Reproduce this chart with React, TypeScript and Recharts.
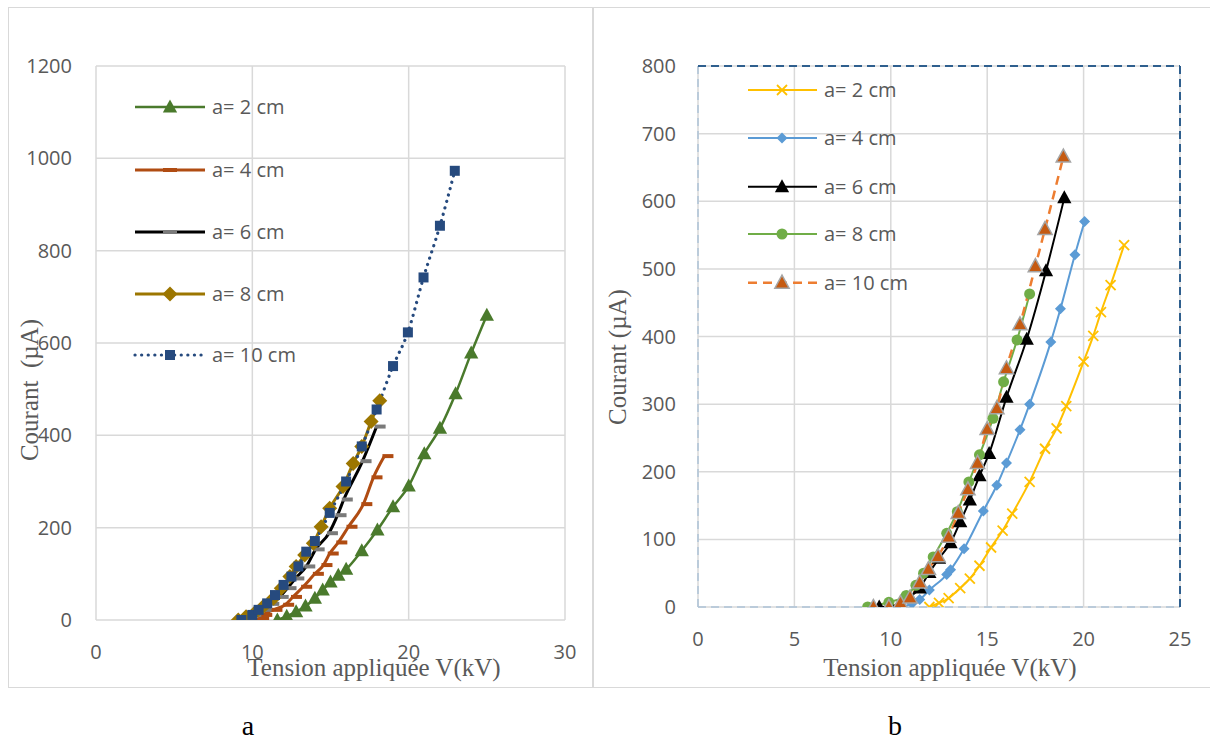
import React from 'react';
import { LineChart, Line, XAxis, YAxis, CartesianGrid, ReferenceLine, Legend } from 'recharts';

// ---------- Chart a ----------
const A_X_TICKS = [0, 10, 20, 30];
const A_Y_TICKS = [0, 200, 400, 600, 800, 1000, 1200];
const A_LABELS = ['a= 2 cm', 'a= 4 cm', 'a= 6 cm', 'a= 8 cm', 'a= 10 cm'];

const A_V2 = [11.6, 12.2, 12.8, 13.4, 14.0, 14.5, 15.0, 15.5, 16.0, 17.0, 18.0, 19.0, 20.0, 21.0, 22.0, 23.0, 24.0, 25.0];
const A_I2 = [0, 8, 18, 30, 47, 65, 82, 97, 110, 150, 195, 245, 290, 360, 415, 490, 578, 660];

const A_V4 = [10.2, 10.5, 10.7, 11.35, 12.1, 12.6, 13.25, 14.0, 14.55, 14.95, 15.5, 16.15, 17.1, 17.75, 18.45];
const A_I4 = [0, 4, 11, 22, 33, 50, 72, 100, 119, 144, 168, 202, 251, 309, 355];

const A_V6 = [9.6, 10.0, 10.65, 11.15, 11.75, 12.25, 12.75, 13.45, 14.05, 14.9, 15.45, 15.85, 17.05, 17.95];
const A_I6 = [0, 11, 22, 35, 50, 69, 90, 116, 153, 188, 227, 261, 344, 419];

const A_V8 = [9.1, 9.6, 10.15, 10.7, 11.35, 11.85, 12.4, 12.8, 13.35, 13.9, 14.4, 14.95, 15.8, 16.45, 17.0, 17.6, 18.15];
const A_I8 = [0, 7, 15, 29, 47, 69, 94, 116, 141, 166, 202, 242, 289, 339, 376, 430, 475];

const A_V10 = [9.3, 10.0, 10.4, 10.95, 11.45, 12.0, 12.5, 12.95, 13.45, 14.0, 14.95, 16.0, 17.0, 17.95, 19.0, 19.95, 20.95, 22.0, 22.95];
const A_I10 = [0, 11, 22, 36, 54, 76, 94, 116, 148, 171, 232, 300, 376, 456, 550, 623, 742, 854, 973];

// ---------- Chart b ----------
const B_X_TICKS = [0, 5, 10, 15, 20, 25];
const B_Y_TICKS = [0, 100, 200, 300, 400, 500, 600, 700, 800];
const B_LABELS = ['a= 2 cm', 'a= 4 cm', 'a= 6 cm', 'a= 8 cm', 'a= 10 cm'];

const B_V2 = [12.0, 12.5, 13.0, 13.6, 14.1, 14.6, 15.2, 15.8, 16.3, 17.2, 18.0, 18.6, 19.1, 20.0, 20.5, 20.9, 21.4, 22.1];
const B_I2 = [0, 6, 13, 28, 42, 61, 88, 113, 138, 185, 234, 264, 297, 363, 401, 436, 476, 535];

const B_V4 = [10.5, 11.1, 11.5, 12.0, 12.9, 13.1, 13.8, 14.8, 15.5, 16.0, 16.7, 17.2, 18.3, 18.8, 19.55, 20.05];
const B_I4 = [0, 5, 11, 25, 48, 55, 86, 142, 180, 213, 262, 300, 392, 441, 521, 570];

const B_V6 = [9.4, 10.0, 10.5, 11.0, 11.5, 12.0, 12.5, 13.1, 13.6, 14.1, 14.6, 15.1, 16.0, 17.05, 18.05, 19.0];
const B_I6 = [0, 1, 6, 15, 28, 51, 72, 95, 126, 158, 194, 227, 310, 396, 497, 605];

const B_V8 = [8.8, 9.9, 10.8, 11.3, 11.7, 12.2, 12.9, 13.45, 14.05, 14.6, 15.3, 15.85, 16.55, 17.2];
const B_I8 = [0, 7, 17, 32, 50, 74, 109, 141, 185, 225, 279, 333, 395, 463];

const B_V10 = [9.1, 9.9, 10.5, 11.0, 11.5, 11.95, 12.45, 13.0, 13.5, 14.0, 14.5, 15.0, 15.5, 16.0, 16.7, 17.5, 18.0, 18.95];
const B_I10 = [0, 0, 6, 14, 36, 56, 75, 104, 139, 174, 213, 263, 294, 353, 418, 504, 559, 666];

const zip = (vs: number[], is: number[]) => vs.map((v, k) => ({ v, i: is[k] }));

const TICK_FONT = "'Open Sans', 'Noto Sans', sans-serif";
const SERIF = "'Liberation Serif', 'DejaVu Serif', serif";
const GRAY_TXT = '#595959';

type Kind = 'tri' | 'dash' | 'diamond' | 'square' | 'x' | 'circle';

function Mark({ kind, cx, cy, size, fill, stroke, sw }: { kind: Kind; cx: number; cy: number; size: number; fill: string; stroke?: string; sw?: number }) {
  if (cx == null || cy == null || isNaN(cx) || isNaN(cy)) return null;
  const s = size;
  switch (kind) {
    case 'tri':
      return (
        <polygon
          points={`${cx},${cy - s * 0.58} ${cx - s * 0.55},${cy + s * 0.42} ${cx + s * 0.55},${cy + s * 0.42}`}
          fill={fill}
          stroke={stroke || 'none'}
          strokeWidth={sw || 0}
        />
      );
    case 'dash':
      return <rect x={cx - 2} y={cy - 2} width={s} height={4} fill={fill} />;
    case 'diamond':
      return <polygon points={`${cx},${cy - s / 2} ${cx + s / 2},${cy} ${cx},${cy + s / 2} ${cx - s / 2},${cy}`} fill={fill} />;
    case 'square':
      return <rect x={cx - s / 2} y={cy - s / 2} width={s} height={s} fill={fill} />;
    case 'x':
      return (
        <g stroke={fill} strokeWidth={sw || 1.6}>
          <line x1={cx - s / 2} y1={cy - s / 2} x2={cx + s / 2} y2={cy + s / 2} />
          <line x1={cx - s / 2} y1={cy + s / 2} x2={cx + s / 2} y2={cy - s / 2} />
        </g>
      );
    case 'circle':
      return <circle cx={cx} cy={cy} r={s / 2} fill={fill} />;
  }
  return null;
}

type SeriesCfg = {
  id: string;
  label: string;
  data: { v: number; i: number }[];
  color: string;
  width: number;
  dash?: string;
  cap?: 'round' | 'butt';
  kind?: Kind;
  size: number;
  mfill: string;
  mstroke?: string;
  msw?: number;
};

const A_SERIES: SeriesCfg[] = [
  { id: 'a2', label: A_LABELS[0], data: zip(A_V2, A_I2), color: '#4A7A2C', width: 2.5, kind: 'tri', size: 13, mfill: '#4A7A2C' },
  { id: 'a4', label: A_LABELS[1], data: zip(A_V4, A_I4), color: '#B04C12', width: 3, kind: 'dash', size: 11, mfill: '#B04C12' },
  { id: 'a6', label: A_LABELS[2], data: zip(A_V6, A_I6), color: '#000000', width: 3, kind: 'dash', size: 11, mfill: '#7A7A7A' },
  { id: 'a8', label: A_LABELS[3], data: zip(A_V8, A_I8), color: '#9C7600', width: 3, kind: 'diamond', size: 15, mfill: '#9C7600' },
  { id: 'a10', label: A_LABELS[4], data: zip(A_V10, A_I10), color: '#264A7E', width: 3.2, dash: '0.1 6.5', cap: 'round', kind: 'square', size: 10, mfill: '#264A7E' },
];

const B_SERIES: SeriesCfg[] = [
  { id: 'b2', label: B_LABELS[0], data: zip(B_V2, B_I2), color: '#FFC000', width: 2, kind: 'x', size: 10, mfill: '#FFC000', msw: 1.8 },
  { id: 'b4', label: B_LABELS[1], data: zip(B_V4, B_I4), color: '#5B9BD5', width: 2, kind: 'diamond', size: 11, mfill: '#5B9BD5' },
  { id: 'b6', label: B_LABELS[2], data: zip(B_V6, B_I6), color: '#000000', width: 2, kind: 'tri', size: 13, mfill: '#000000' },
  { id: 'b8', label: B_LABELS[3], data: zip(B_V8, B_I8), color: '#70AD47', width: 2, kind: 'circle', size: 11, mfill: '#70AD47' },
  { id: 'b10', label: B_LABELS[4], data: zip(B_V10, B_I10), color: '#ED7D31', width: 2.5, dash: '9 6', kind: 'tri', size: 13, mfill: '#C55A11', mstroke: '#A5A5A5', msw: 1.5 },
];

function renderSeries(list: SeriesCfg[]) {
  return list.map((s) => (
    <Line
      key={s.id}
      name={s.label}
      data={s.data}
      dataKey="i"
      type="monotone"
      stroke={s.color}
      strokeWidth={s.width}
      strokeDasharray={s.dash}
      strokeLinecap={s.cap || 'butt'}
      isAnimationActive={false}
      activeDot={false}
      dot={(p: any) => (
        <Mark
          key={`${s.id}-${p.index}`}
          kind={s.kind as Kind}
          cx={p.cx}
          cy={p.cy}
          size={s.size}
          fill={s.mfill}
          stroke={s.mstroke}
          sw={s.msw}
        />
      )}
    />
  ));
}

function LegendBox({ list, rows, x1, x2, mx, tx, w, h }: { list: SeriesCfg[]; rows: number[]; x1: number; x2: number; mx: number; tx: number; w: number; h: number }) {
  return (
    <svg width={w} height={h} style={{ overflow: 'visible', display: 'block' }}>
      {list.map((s, k) => (
        <g key={s.id}>
          <line x1={x1} x2={x2} y1={rows[k]} y2={rows[k]} stroke={s.color} strokeWidth={s.width} strokeDasharray={s.dash} strokeLinecap={s.cap || 'butt'} />
          {s.kind === 'dash' ? (
            <rect x={mx - 7} y={rows[k] - 2} width={14} height={4} fill={s.mfill} />
          ) : (
            <Mark kind={s.kind as Kind} cx={mx} cy={rows[k]} size={s.size} fill={s.mfill} stroke={s.mstroke} sw={s.msw} />
          )}
          <text x={tx} y={rows[k]} dy="0.35em" fontFamily={TICK_FONT} fontSize={20} fill={GRAY_TXT}>
            {s.label}
          </text>
        </g>
      ))}
    </svg>
  );
}

const tickStyle = { fill: GRAY_TXT, fontSize: 20, fontFamily: TICK_FONT };

export default function App() {
  return (
    <div style={{ position: 'absolute', left: 0, top: 0, width: 1210, height: 745, background: '#fff', overflow: 'hidden' }}>
      {/* frame */}
      <div style={{ position: 'absolute', left: 8, top: 7, width: 1210, height: 679, borderTop: '1.5px solid #D9D9D9', borderLeft: '1.5px solid #D9D9D9', borderBottom: '1.5px solid #D9D9D9' }} />
      <div style={{ position: 'absolute', left: 592, top: 7, width: 1.5, height: 680, background: '#D9D9D9' }} />

      {/* chart a */}
      <div style={{ position: 'absolute', left: 0, top: 0 }}>
        <LineChart width={594} height={700} margin={{ top: 66, right: 29, bottom: 50, left: 36 }}>
          <CartesianGrid stroke="#D9D9D9" strokeWidth={1.5} />
          <XAxis type="number" dataKey="v" domain={[0, 30]} ticks={A_X_TICKS} axisLine={false} tickLine={false} tickSize={0} tickMargin={25} tick={tickStyle} allowDataOverflow />
          <YAxis type="number" dataKey="i" domain={[0, 1200]} ticks={A_Y_TICKS} axisLine={false} tickLine={false} tickSize={0} tickMargin={24} tick={tickStyle} width={60} allowDataOverflow />
          <Legend
            layout="vertical"
            align="center"
            verticalAlign="middle"
            wrapperStyle={{ left: 120, top: 90, width: 200, height: 290 }}
            content={() => <LegendBox list={A_SERIES} rows={[17, 80, 142, 204, 265]} x1={15} x2={85} mx={50} tx={92} w={200} h={290} />}
          />
          {renderSeries(A_SERIES)}
        </LineChart>
      </div>

      {/* chart b */}
      <div style={{ position: 'absolute', left: 594, top: 0 }}>
        <LineChart width={616} height={700} margin={{ top: 66, right: 30, bottom: 63, left: 44 }}>
          <CartesianGrid stroke="#D9D9D9" strokeWidth={1.5} />
          <XAxis type="number" dataKey="v" domain={[0, 25]} ticks={B_X_TICKS} axisLine={false} tickLine={false} tickSize={0} tickMargin={25} tick={tickStyle} allowDataOverflow />
          <YAxis type="number" dataKey="i" domain={[0, 800]} ticks={B_Y_TICKS} axisLine={false} tickLine={false} tickSize={0} tickMargin={22} tick={tickStyle} width={60} allowDataOverflow />
          <ReferenceLine x={0} stroke="#AFC3D8" strokeWidth={1.5} strokeDasharray="8 5" />
          <ReferenceLine y={0} stroke="#AFC3D8" strokeWidth={1.5} strokeDasharray="8 5" />
          <ReferenceLine y={800} stroke="#2F5F8E" strokeWidth={2} strokeDasharray="8 5" />
          <ReferenceLine x={25} stroke="#2F5F8E" strokeWidth={2} strokeDasharray="8 5" />
          <Legend
            layout="vertical"
            align="center"
            verticalAlign="middle"
            wrapperStyle={{ left: 140, top: 70, width: 200, height: 240 }}
            content={() => <LegendBox list={B_SERIES} rows={[20, 68, 116.7, 164, 212.7]} x1={14} x2={83} mx={48} tx={90} w={200} h={240} />}
          />
          {renderSeries(B_SERIES)}
        </LineChart>
      </div>

      {/* axis titles */}
      <div style={{ position: 'absolute', left: 174, top: 654, width: 400, lineHeight: '28px', textAlign: 'center', fontFamily: SERIF, fontSize: 25, color: GRAY_TXT, whiteSpace: 'nowrap' }}>
        Tension appliquée V(kV)
      </div>
      <div style={{ position: 'absolute', left: 750, top: 654, width: 400, lineHeight: '28px', textAlign: 'center', fontFamily: SERIF, fontSize: 25, color: GRAY_TXT, whiteSpace: 'nowrap' }}>
        Tension appliquée V(kV)
      </div>
      <div style={{ position: 'absolute', left: 30 - 110, top: 390 - 14, width: 220, lineHeight: '28px', textAlign: 'center', fontFamily: SERIF, fontSize: 25, color: GRAY_TXT, whiteSpace: 'pre', transform: 'rotate(-90deg)' }}>
        {'Courant  (µA)'}
      </div>
      <div style={{ position: 'absolute', left: 618 - 110, top: 357 - 14, width: 220, lineHeight: '28px', textAlign: 'center', fontFamily: SERIF, fontSize: 25, color: GRAY_TXT, whiteSpace: 'pre', transform: 'rotate(-90deg)' }}>
        {'Courant (µA)'}
      </div>

      {/* panel captions */}
      <div style={{ position: 'absolute', left: 248 - 30, top: 710, width: 60, lineHeight: '32px', textAlign: 'center', fontFamily: SERIF, fontSize: 28, color: '#000' }}>a</div>
      <div style={{ position: 'absolute', left: 895 - 30, top: 710, width: 60, lineHeight: '32px', textAlign: 'center', fontFamily: SERIF, fontSize: 28, color: '#000' }}>b</div>
    </div>
  );
}
